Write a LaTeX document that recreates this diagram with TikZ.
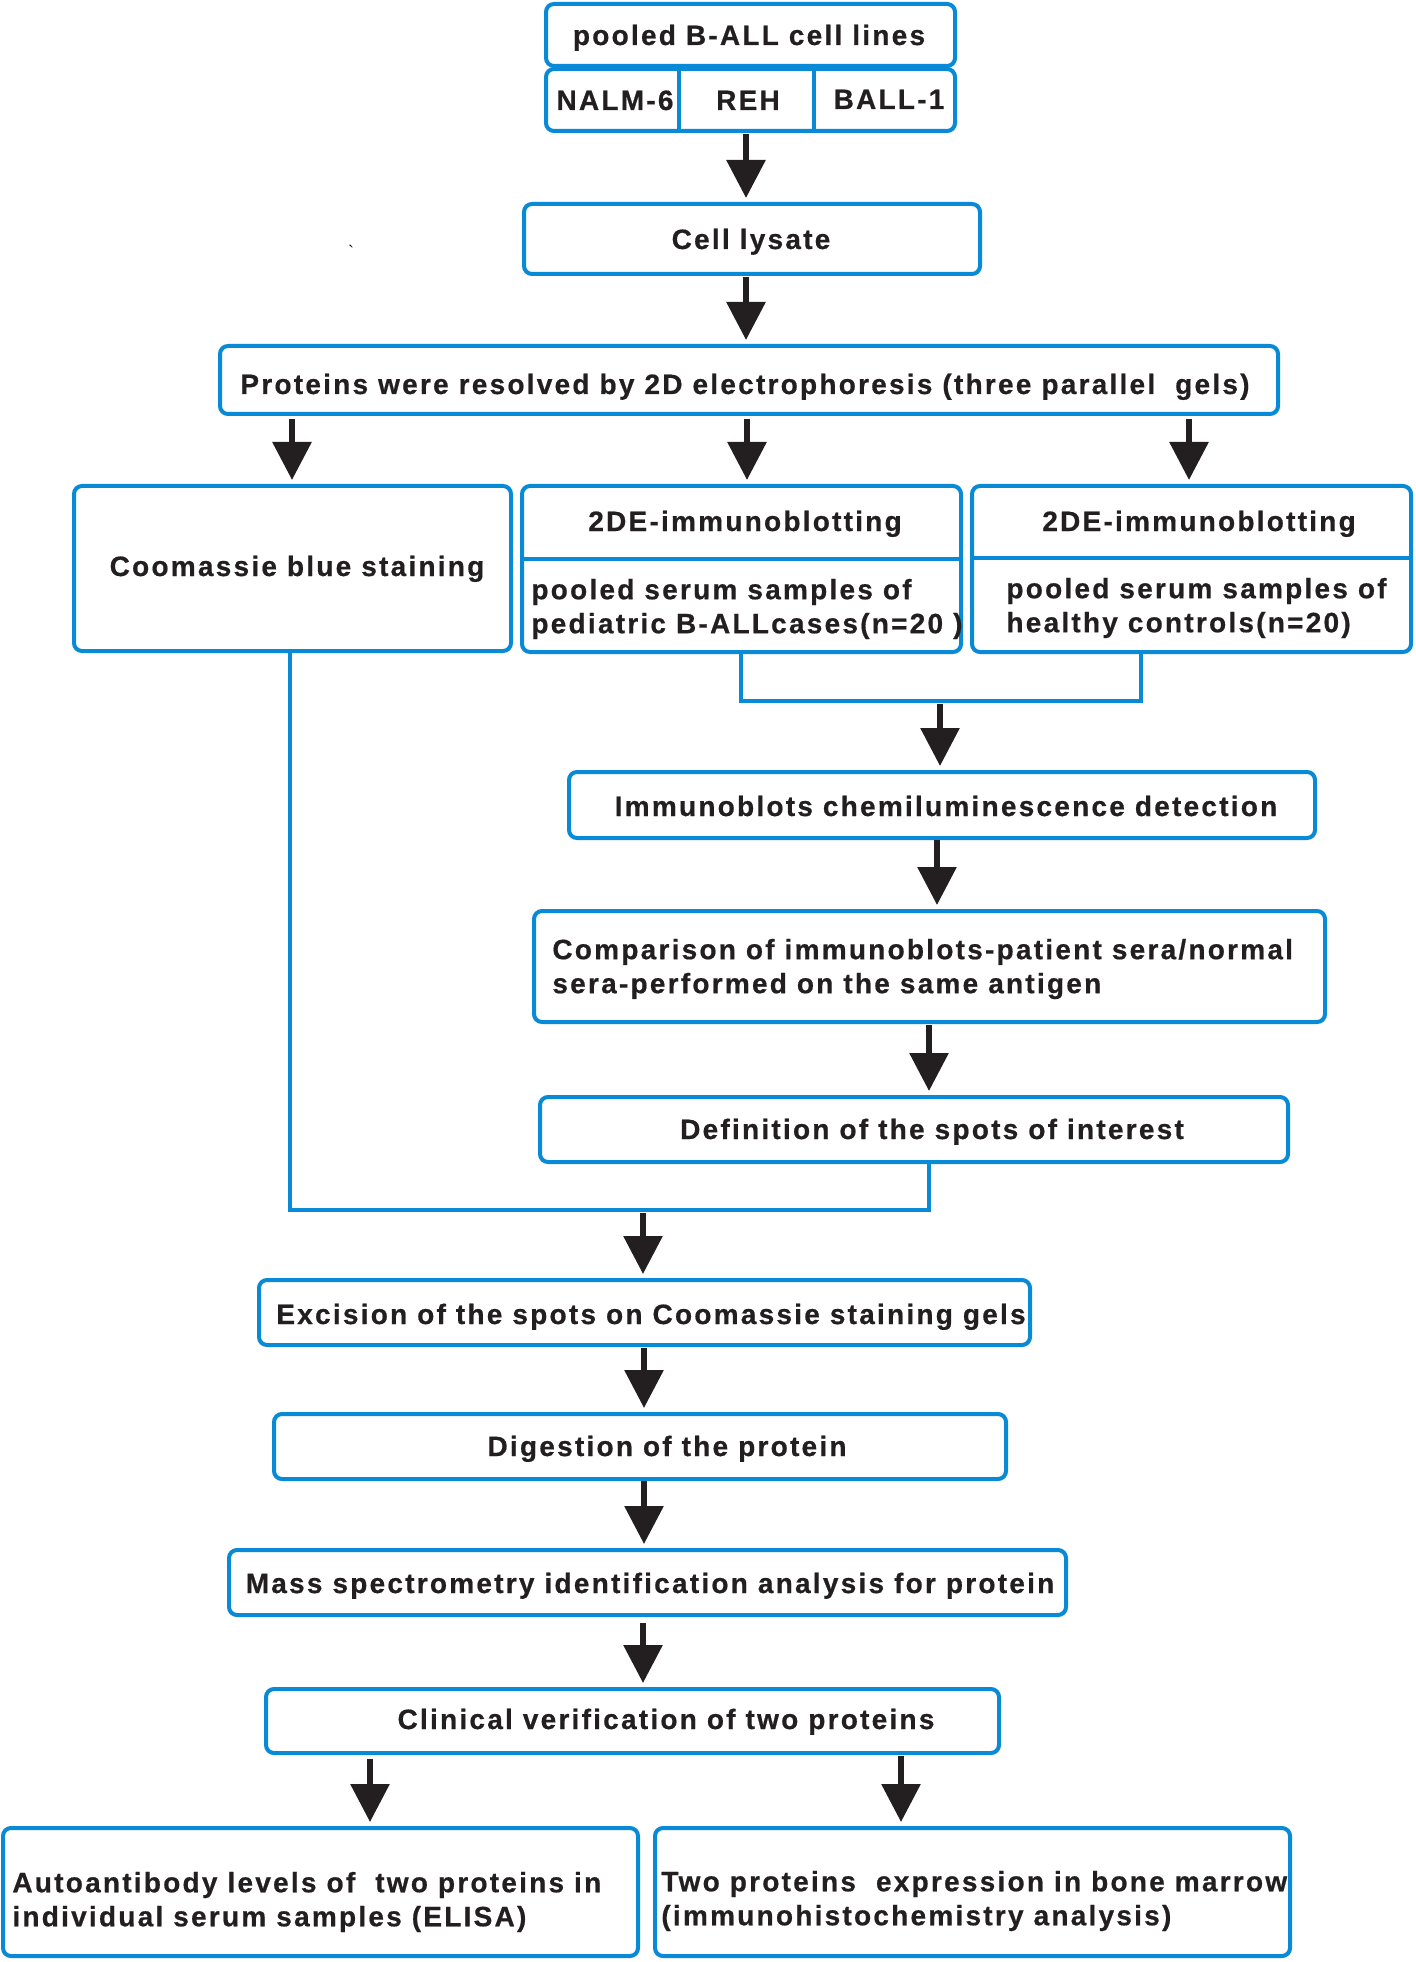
\documentclass[tikz,border=0pt]{standalone}
\usepackage{fontspec}
\setmainfont{Liberation Sans}[LetterSpace=8,BoldFeatures={FakeBold=0.6}]
\usetikzlibrary{arrows.meta}
\definecolor{bxblue}{RGB}{8,138,214}
\definecolor{ink}{RGB}{35,31,32}
\begin{document}
\begin{tikzpicture}[x=0.5pt,y=-0.5pt,
  box/.style={draw=bxblue,line width=2pt,rounded corners=4pt,fill=none,inner sep=0pt},
  conn/.style={draw=bxblue,line width=1.8pt},
  arr/.style={draw=ink,line width=3pt,-{Triangle[length=19pt,width=19pt]},shorten >=2pt},
  txt/.style={font=\bfseries\fontsize{14}{17}\selectfont,text=ink,inner sep=0pt},
  t1/.style={txt,anchor=base},
  tl/.style={txt,anchor=west,align=left}]
\useasboundingbox (0,0) rectangle (1416,1962);
% boxes
\node[box,minimum width=204.5pt,minimum height=31pt] (top) at (750.5,35) {};
\node[box,minimum width=204.5pt,minimum height=31pt] (row) at (750.5,100) {};
\draw[conn] (679,69) -- (679,131);
\draw[conn] (814,69) -- (814,131);
\node[box,minimum width=228pt,minimum height=35pt] (cl) at (752,239) {};
\node[box,minimum width=529pt,minimum height=34pt] (prot) at (749,380) {};
\node[box,minimum width=218.5pt,minimum height=82.5pt] (coo) at (292.5,568.5) {};
\node[box,minimum width=219.5pt,minimum height=83pt] (mid) at (741.5,569) {};
\node[box,minimum width=219.5pt,minimum height=83pt] (rgt) at (1191.5,569) {};
\draw[conn] (mid.west |- 0,559) -- (mid.east |- 0,559);
\draw[conn] (rgt.west |- 0,558) -- (rgt.east |- 0,558);
\node[box,minimum width=373pt,minimum height=33pt] (imm) at (942,805) {};
\node[box,minimum width=395.5pt,minimum height=55.5pt] (cmp) at (929.5,966.5) {};
\node[box,minimum width=374pt,minimum height=32.5pt] (def) at (914,1129.5) {};
\node[box,minimum width=385.5pt,minimum height=32.5pt] (exc) at (644.5,1312.5) {};
\node[box,minimum width=366pt,minimum height=32.5pt] (dig) at (640,1446.5) {};
\node[box,minimum width=418.5pt,minimum height=32.5pt] (mass) at (647.5,1582.5) {};
\node[box,minimum width=366.5pt,minimum height=32pt] (cli) at (632.5,1721) {};
\node[box,minimum width=317.5pt,minimum height=64pt] (bl) at (320.5,1892) {};
\node[box,minimum width=317.5pt,minimum height=64pt] (br) at (972.5,1892) {};
% texts
\node[t1] (ttop) at (749,45) {pooled B-ALL cell lines};
\node[t1] (tn) at (615,110) {NALM-6};
\node[t1] (tr) at (748,110) {REH};
\node[t1] (tb) at (889,109) {BALL-1};
\node[t1] (tcl) at (751,249) {Cell lysate};
\node[t1] (tprot) at (745,394) {Proteins were resolved by 2D electrophoresis (three parallel\ \ gels)};
\node[t1] (tcoo) at (297,576) {Coomassie blue staining};
\node[t1] (tmid) at (745,531) {2DE-immunoblotting};
\node[t1] (trgt) at (1199,531) {2DE-immunoblotting};
\node[tl] (tmid2) at (531,609) {pooled serum samples of\\pediatric B-ALLcases(n=20 )};
\node[tl] (trgt2) at (1006,608) {pooled serum samples of\\healthy controls(n=20)};
\node[t1] (timm) at (946,816) {Immunoblots chemiluminescence detection};
\node[tl] (tcmp) at (552,969) {Comparison of immunoblots-patient sera/normal\\sera-performed on the same antigen};
\node[t1] (tdef) at (932,1139) {Definition of the spots of interest};
\node[t1] (texc) at (651,1324) {Excision of the spots on Coomassie staining gels};
\node[t1] (tdig) at (667,1456) {Digestion of the protein};
\node[t1] (tmass) at (650,1593) {Mass spectrometry identification analysis for protein};
\node[t1] (tcli) at (666,1729) {Clinical verification of two proteins};
\node[tl] (tbl) at (12,1902) {Autoantibody levels of\ \ two proteins in\\individual serum samples (ELISA)};
\node[tl] (tbr) at (661,1901) {Two proteins\ \ expression in bone marrow\\(immunohistochemistry analysis)};
\node[txt,font=\small] (tick) at (351,252) {\textasciigrave};
% arrows
\coordinate (a1) at (746,134); \draw[arr] (a1) -- (a1 |- cl.north);
\coordinate (a2) at (746,277); \draw[arr] (a2) -- (a2 |- prot.north);
\coordinate (a3) at (292,419); \draw[arr] (a3) -- (a3 |- coo.north);
\coordinate (a4) at (747,419); \draw[arr] (a4) -- (a4 |- mid.north);
\coordinate (a5) at (1189,419); \draw[arr] (a5) -- (a5 |- rgt.north);
\coordinate (k1) at (741,701); \coordinate (k2) at (1141,701);
\draw[conn] (k1 |- mid.south) -- (k1) -- (k2) -- (k2 |- rgt.south);
\coordinate (a6) at (940,704); \draw[arr] (a6) -- (a6 |- imm.north);
\coordinate (a7) at (937,840); \draw[arr] (a7) -- (a7 |- cmp.north);
\coordinate (a8) at (929,1025); \draw[arr] (a8) -- (a8 |- def.north);
\coordinate (m1) at (929,1210); \coordinate (m2) at (290,1210);
\draw[conn] (m1 |- def.south) -- (m1) -- (m2) -- (m2 |- coo.south);
\coordinate (a9) at (643,1213); \draw[arr] (a9) -- (a9 |- exc.north);
\coordinate (a10) at (644,1348); \draw[arr] (a10) -- (a10 |- dig.north);
\coordinate (a11) at (644,1481); \draw[arr] (a11) -- (a11 |- mass.north);
\coordinate (a12) at (643,1623); \draw[arr] (a12) -- (a12 |- cli.north);
\coordinate (a13) at (370,1759); \draw[arr] (a13) -- (a13 |- bl.north);
\coordinate (a14) at (901,1756); \draw[arr] (a14) -- (a14 |- br.north);
\end{tikzpicture}
\end{document}
